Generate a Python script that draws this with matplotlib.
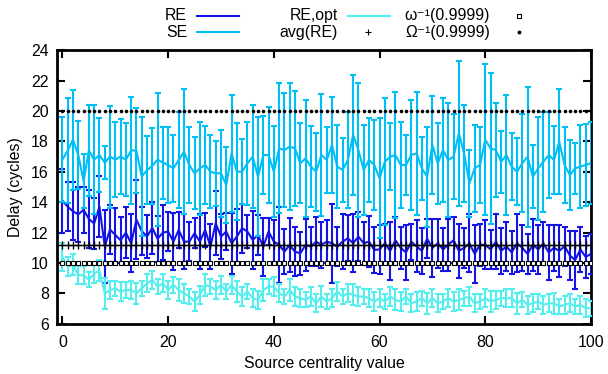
import numpy as np
import matplotlib
matplotlib.use("Agg")
import matplotlib.pyplot as plt
from matplotlib.lines import Line2D

plt.rcParams['font.family'] = ['Liberation Sans', 'DejaVu Sans']
plt.rcParams['font.size'] = 11.4

centrality = list(range(101))

se_mean = [16.8, 17.4, 18.1, 17.1, 15.4, 17.4, 16.8, 17.1, 16.6, 17.0,
           16.8, 17.0, 16.8, 17.4, 17.4, 15.7, 16.1, 16.4, 16.8, 16.6,
           16.45, 16.23, 16.77, 17.32, 16.45, 15.90, 16.23, 16.45, 16.01, 15.90,
           15.90, 15.13, 17.21, 16.01, 16.01, 16.56, 16.99, 15.68, 17.10, 17.10,
           16.0, 17.54, 17.43, 17.65, 17.54, 16.56, 16.88, 16.34, 16.01, 17.1,
           16.77, 17.76, 16.34, 16.12, 16.77, 18.42, 17.43, 16.12, 16.77, 16.45,
           15.57, 16.66, 16.99, 17.1, 16.45, 16.45, 17.1, 17.21, 16.23, 15.68,
           17.76, 16.56, 17.43, 16.77, 16.99, 18.53, 17.21, 15.24, 16.23, 16.45,
           18.1, 17.54, 17.43, 16.66, 17.1, 16.34, 16.01, 16.56, 16.99, 15.68,
           16.23, 16.66, 17.1, 16.77, 17.98, 16.45, 15.79, 16.23, 16.34, 16.45,
           16.56]
se_err = [2.78, 3.44, 3.3, 2.23, 1.8, 2.96, 3.6, 2.45, 1.1, 3.35,
          2.47, 2.45, 2.4, 3.5, 2.78, 3.9, 2.25, 2.5, 4.38, 2.36,
          2.47, 2.19, 3.17, 4.1, 2.52, 2.36, 3.07, 2.56, 2.41, 2.15,
          2.85, 2.5, 3.83, 3.2, 2.15, 2.74, 3.4, 3.9, 2.56, 3.13,
          3.0, 4.27, 3.72, 4.16, 3.77, 2.63, 3.83, 2.67, 2.56, 3.99,
          2.19, 3.17, 2.74, 2.08, 3.17, 3.94, 4.4, 2.96, 2.74, 2.96,
          3.94, 4.16, 2.2, 4.16, 2.85, 1.97, 3.61, 4.05, 2.08, 3.28,
          3.22, 2.67, 3.39, 3.77, 2.78, 4.75, 3.17, 2.19, 2.85, 2.52,
          4.96, 4.96, 3.07, 2.04, 3.94, 2.19, 2.19, 3.22, 4.6, 2.08,
          3.39, 3.28, 2.85, 2.23, 3.44, 2.52, 2.3, 1.69, 2.74, 2.69,
          2.7]

re_mean = [14.1, 13.7, 13.4, 13.2, 13.5, 12.9, 12.6, 13.7, 11.1, 12.2,
           11.85, 11.5, 12.0, 11.3, 12.85, 12.1, 11.75, 12.3, 11.6, 12.0,
           12.07, 11.41, 12.18, 11.41, 11.41, 11.96, 11.41, 12.18, 11.08, 12.61,
           11.74, 12.07, 11.3, 11.74, 12.29, 12.07, 11.52, 11.85, 11.08, 12.07,
           11.41, 11.2, 10.75, 11.19, 10.75, 10.64, 11.19, 11.08, 11.41, 11.19,
           11.41, 11.3, 11.08, 11.41, 11.63, 11.3, 11.74, 11.3, 11.41, 10.86,
           10.9, 11.3, 10.8, 11.5, 11.0, 10.7, 11.4, 11.1, 10.8, 11.6,
           11.0, 11.3, 10.9, 11.2, 11.5, 10.8, 11.0, 11.3, 10.6, 11.2,
           11.2, 10.9, 11.4, 10.8, 11.1, 10.7, 11.3, 11.0, 10.6, 11.2,
           10.9, 11.3, 10.7, 11.0, 10.8, 11.1, 10.5, 10.2, 10.9, 10.4,
           10.6]
re_err = [2.1, 1.6, 1.9, 1.8, 1.5, 1.9, 1.7, 2.0, 2.4, 1.6,
          1.8, 1.5, 1.7, 1.9, 2.6, 1.6, 1.4, 1.7, 1.5, 1.8,
          1.3, 1.9, 1.2, 1.8, 1.3, 1.0, 1.8, 1.1, 1.5, 2.1,
          1.5, 1.2, 2.0, 1.8, 1.6, 1.1, 1.9, 1.3, 1.9, 0.9,
          1.4, 2.5, 1.5, 1.8, 1.6, 1.4, 1.7, 1.3, 1.6, 1.5,
          1.4, 2.6, 1.3, 1.8, 1.5, 1.9, 1.6, 1.4, 1.7, 1.5,
          1.6, 1.3, 1.9, 1.5, 1.4, 1.8, 1.2, 1.7, 1.5, 1.3,
          1.9, 1.6, 1.4, 1.7, 1.5, 1.8, 1.3, 1.9, 1.9, 1.4,
          1.6, 1.3, 1.8, 1.5, 1.6, 1.4, 1.9, 1.5, 1.3, 1.7,
          1.6, 1.4, 1.8, 1.5, 1.7, 1.3, 1.6, 1.9, 1.5, 1.4,
          1.3]

opt_mean = [10.4, 9.77, 9.9, 9.2, 9.2, 8.9, 9.3, 9.5, 8.0, 8.23,
            8.34, 8.13, 8.23, 8.23, 8.0, 8.34, 8.67, 8.89, 8.45, 8.67,
            8.23, 8.56, 8.23, 8.0, 7.8, 7.47, 7.9, 8.56, 8.45, 8.23,
            8.56, 8.13, 8.56, 8.13, 7.8, 8.13, 7.69, 7.58, 8.23, 8.45,
            8.45, 8.02, 7.8, 8.23, 7.8, 7.69, 7.58, 7.8, 7.36, 7.8,
            7.47, 7.69, 8.13, 7.8, 8.02, 7.91, 7.8, 7.8, 7.69, 7.47,
            7.69, 7.47, 7.8, 7.58, 7.47, 7.8, 7.36, 7.47, 7.69, 7.36,
            7.69, 7.36, 7.47, 7.69, 7.47, 7.58, 7.69, 7.8, 7.36, 7.47,
            7.69, 7.47, 7.58, 7.69, 7.69, 7.69, 7.36, 7.58, 7.25, 7.36,
            7.47, 7.25, 7.36, 7.36, 7.14, 7.25, 7.36, 7.14, 7.25, 7.03,
            7.03]
opt_err = [0.9, 0.6, 0.7, 0.6, 0.6, 0.5, 0.6, 0.7, 1.0, 0.6,
           0.5, 0.6, 0.5, 0.6, 0.7, 0.5, 0.6, 0.6, 0.5, 0.6,
           0.6, 0.5, 0.7, 0.6, 0.5, 0.6, 0.6, 0.7, 0.5, 0.6,
           0.6, 0.5, 0.6, 0.7, 0.6, 0.5, 0.6, 0.6, 0.7, 0.5,
           0.6, 0.6, 0.5, 0.7, 0.6, 0.6, 0.5, 0.6, 0.6, 0.7,
           0.5, 0.6, 0.6, 0.5, 0.6, 0.7, 0.6, 0.5, 0.6, 0.6,
           0.6, 0.5, 0.6, 0.7, 0.6, 0.5, 0.6, 0.6, 0.5, 0.7,
           0.6, 0.6, 0.5, 0.6, 0.6, 0.7, 0.5, 0.6, 0.6, 0.5,
           0.6, 0.7, 0.6, 0.5, 0.6, 0.6, 0.7, 0.5, 0.6, 0.6,
           0.5, 0.6, 0.6, 0.7, 0.5, 0.6, 0.6, 0.5, 0.6, 0.6,
           0.5]

omega_inv = 10.0      # ω^-1(0.9999)
avg_re = 11.2         # avg(RE)
big_omega_inv = 20.0  # Ω^-1(0.9999)

c_re = '#1414e6'
c_se = '#00bff5'
c_opt = '#55eeee'

fig = plt.figure(figsize=(6.08, 3.74), dpi=100)
ax = fig.add_axes([0.094, 0.134, 0.878, 0.732])

eb_kw = dict(lw=1.5, elinewidth=1.5, capsize=2.4, capthick=1.5)
ax.errorbar(centrality, re_mean, yerr=re_err, color=c_re, ecolor=c_re, **eb_kw, zorder=3)
ax.errorbar(centrality, se_mean, yerr=se_err, color=c_se, ecolor=c_se, **eb_kw, zorder=4)
ax.errorbar(centrality, opt_mean, yerr=opt_err, color=c_opt, ecolor=c_opt, **eb_kw, zorder=5)

xs = np.array(centrality)
ax.plot(xs, np.full(len(xs), avg_re), ls='none', marker='+', ms=6, mew=1.0,
        color='black', zorder=6)
ax.plot(xs, np.full(len(xs), omega_inv), ls='none', marker='s', ms=3.2, mew=0.8,
        mfc='white', mec='black', zorder=6)
ax.plot(xs, np.full(len(xs), big_omega_inv), ls='none', marker='o', ms=2.6, mew=0,
        color='black', zorder=6)

fs = 11.4
ax.set_xlim(-1, 100)
ax.set_ylim(6, 24)
ax.set_xticks([0, 20, 40, 60, 80, 100])
ax.set_yticks([6, 8, 10, 12, 14, 16, 18, 20, 22, 24])
ax.tick_params(direction='in', length=6, width=1.5, top=True, right=True,
               labelsize=fs)
ax.tick_params(axis='x', pad=8)
ax.tick_params(axis='y', pad=6)
for sp in ax.spines.values():
    sp.set_linewidth(2.0)
ax.set_xlabel('Source centrality value', fontsize=fs, labelpad=4)
ax.set_ylabel('Delay (cycles)', fontsize=fs, labelpad=6)

# key above the plot area, gnuplot style: right-aligned text followed by sample
W, H = 608.0, 374.0
def fx(px):
    return px / W
def fy(py):
    return 1 - py / H

rows = [15.7, 32.3]
fig.text(fx(187), fy(rows[0]), 'RE', ha='right', va='center', fontsize=fs)
fig.text(fx(187), fy(rows[1]), 'SE', ha='right', va='center', fontsize=fs)
fig.add_artist(Line2D([fx(197), fx(239)], [fy(rows[0])] * 2, color=c_re, lw=1.5))
fig.add_artist(Line2D([fx(197), fx(239)], [fy(rows[1])] * 2, color=c_se, lw=1.5))

fig.text(fx(338), fy(rows[0]), 'RE,opt', ha='right', va='center', fontsize=fs)
fig.text(fx(338), fy(rows[1]), 'avg(RE)', ha='right', va='center', fontsize=fs)
fig.add_artist(Line2D([fx(348), fx(390)], [fy(rows[0])] * 2, color=c_opt, lw=1.5))
fig.add_artist(Line2D([fx(368)], [fy(rows[1])], ls='none', marker='+', ms=4,
                      mew=0.8, color='black'))

fig.text(fx(490), fy(rows[0]), 'ω\u207b\u00b9(0.9999)', ha='right', va='center', fontsize=fs)
fig.text(fx(490), fy(rows[1]), 'Ω\u207b\u00b9(0.9999)', ha='right', va='center', fontsize=fs)
fig.add_artist(Line2D([fx(519)], [fy(rows[0])], ls='none', marker='s', ms=3.2,
                      mew=0.8, mfc='white', mec='black'))
fig.add_artist(Line2D([fx(519)], [fy(rows[1])], ls='none', marker='o', ms=2.8,
                      mew=0, color='black'))

fig.savefig('out.png', dpi=100)
